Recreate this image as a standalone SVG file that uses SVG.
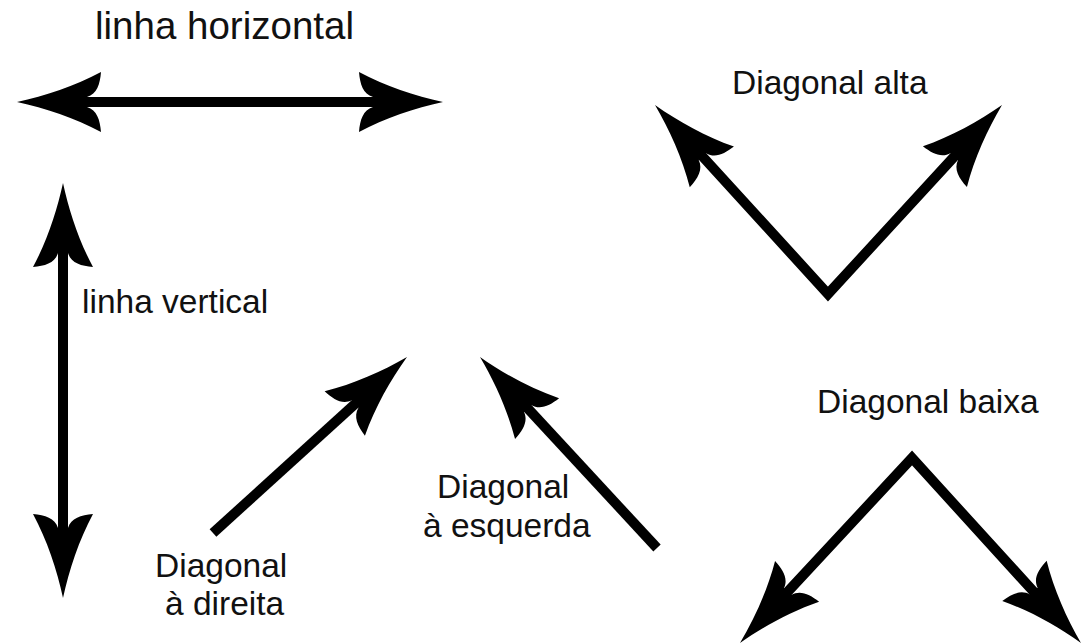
<svg xmlns="http://www.w3.org/2000/svg" xmlns:xlink="http://www.w3.org/1999/xlink" width="1089" height="644" viewBox="0 0 1089 644">
<defs>
<style>
.ln{fill:none;stroke:#000;stroke-width:10;stroke-linejoin:miter;stroke-linecap:butt}
.lb{font-family:"Liberation Sans",Arial,sans-serif;font-size:33.5px;fill:#111}
.hd{fill:#000}
</style>
<path id="head" class="hd" d="M0,0 C-28,-6 -58,-16 -84,-30 C-83,-18 -80,-8 -70,-5 L-70,5 C-80,8 -83,18 -84,30 C-58,16 -28,6 0,0 Z"/>
</defs>
<rect width="1089" height="644" fill="#fff"/>
<g id="connectors">
<g id="horizontal">
<line class="ln" x1="60" y1="102" x2="400" y2="102"/>
<use xlink:href="#head" href="#head" transform="translate(17,102) rotate(180)"/>
<use xlink:href="#head" href="#head" transform="translate(443,102)"/>
</g>
<g id="vertical">
<line class="ln" x1="63" y1="230" x2="63" y2="550"/>
<use xlink:href="#head" href="#head" transform="translate(63,183) rotate(-90)"/>
<use xlink:href="#head" href="#head" transform="translate(63,598) rotate(90)"/>
</g>
<g id="diag-alta">
<polyline class="ln" points="682,134 828,294 975,134"/>
<use xlink:href="#head" href="#head" transform="translate(655,105) rotate(-132.6)"/>
<use xlink:href="#head" href="#head" transform="translate(1002,105) rotate(-47.2)"/>
</g>
<g id="diag-baixa">
<polyline class="ln" points="767,614 912,458 1054,614"/>
<use xlink:href="#head" href="#head" transform="translate(740,643) rotate(132.8)"/>
<use xlink:href="#head" href="#head" transform="translate(1081,643) rotate(47.7)"/>
</g>
<g id="diag-direita">
<line class="ln" x1="213" y1="533" x2="377" y2="384"/>
<use xlink:href="#head" href="#head" transform="translate(407,357) rotate(-42.2)"/>
</g>
<g id="diag-esquerda">
<line class="ln" x1="657" y1="548" x2="507" y2="386"/>
<use xlink:href="#head" href="#head" transform="translate(480,357) rotate(-132.8)"/>
</g>
</g>
<g id="label-horizontal"><text class="lb" x="95" y="39" style="font-size:38.5px">linha horizontal</text></g>
<g id="label-vertical"><text class="lb" x="82" y="313">linha vertical</text></g>
<g id="label-alta"><text class="lb" x="732" y="94">Diagonal alta</text></g>
<g id="label-baixa"><text class="lb" x="817" y="413">Diagonal baixa</text></g>
<g id="label-direita"><text class="lb" x="155" y="577">Diagonal</text><text class="lb" x="165" y="615">à direita</text></g>
<g id="label-esquerda"><text class="lb" x="437" y="498">Diagonal</text><text class="lb" x="423" y="537">à esquerda</text></g>
</svg>
